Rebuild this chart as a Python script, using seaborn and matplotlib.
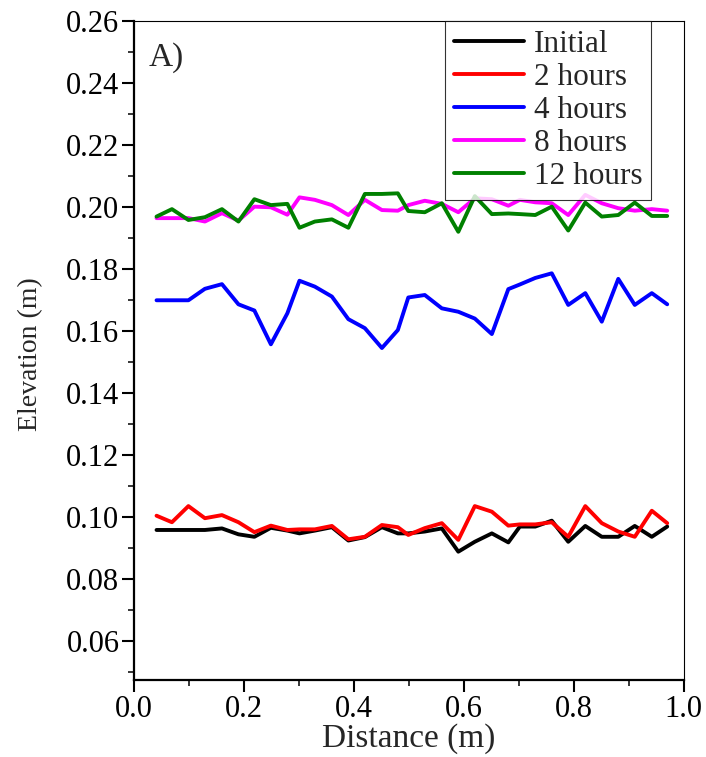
import numpy as np
import pandas as pd
import matplotlib
matplotlib.use("Agg")
import matplotlib.pyplot as plt
from matplotlib.ticker import MultipleLocator, FormatStrFormatter
import seaborn as sns

# Measurement positions along the flume (m)
distance = [0.041, 0.069, 0.099, 0.129, 0.160, 0.190, 0.219, 0.249, 0.279, 0.301,
            0.329, 0.360, 0.390, 0.420, 0.451, 0.480, 0.499, 0.529, 0.560, 0.590,
            0.620, 0.651, 0.681, 0.702, 0.730, 0.760, 0.790, 0.821, 0.851, 0.881,
            0.911, 0.942, 0.970]

# Bed elevation profiles (m)
initial = [0.0958, 0.0958, 0.0958, 0.0958, 0.0963, 0.0944, 0.0936, 0.0965, 0.0956, 0.0947,
           0.0956, 0.0967, 0.0924, 0.0935, 0.0967, 0.0947, 0.0947, 0.0953, 0.0963, 0.0888,
           0.0920, 0.0947, 0.0918, 0.0969, 0.0969, 0.0988, 0.0920, 0.0971, 0.0936, 0.0936,
           0.0971, 0.0936, 0.0969]
hours_2 = [0.1004, 0.0983, 0.1035, 0.0996, 0.1006, 0.0983, 0.0951, 0.0972, 0.0958, 0.0960,
           0.0960, 0.0971, 0.0928, 0.0936, 0.0974, 0.0967, 0.0942, 0.0964, 0.0980, 0.0926,
           0.1035, 0.1017, 0.0972, 0.0976, 0.0976, 0.0983, 0.0936, 0.1035, 0.0980, 0.0953,
           0.0936, 0.1020, 0.0980]
hours_4 = [0.1699, 0.1699, 0.1699, 0.1736, 0.1751, 0.1686, 0.1666, 0.1557, 0.1657, 0.1762,
           0.1743, 0.1711, 0.1638, 0.1609, 0.1545, 0.1603, 0.1708, 0.1716, 0.1673, 0.1662,
           0.1640, 0.1590, 0.1735, 0.1750, 0.1771, 0.1786, 0.1684, 0.1722, 0.1630, 0.1768,
           0.1684, 0.1722, 0.1686]
hours_8 = [0.1964, 0.1964, 0.1964, 0.1953, 0.1980, 0.1956, 0.2001, 0.1999, 0.1975, 0.2031,
           0.2023, 0.2006, 0.1974, 0.2023, 0.1990, 0.1988, 0.2006, 0.2020, 0.2010, 0.1983,
           0.2028, 0.2025, 0.2004, 0.2023, 0.2015, 0.2012, 0.1974, 0.2039, 0.2012, 0.1996,
           0.1988, 0.1993, 0.1988]
hours_12 = [0.1969, 0.1993, 0.1958, 0.1967, 0.1993, 0.1953, 0.2025, 0.2006, 0.2010, 0.1933,
            0.1953, 0.1960, 0.1933, 0.2042, 0.2042, 0.2044, 0.1987, 0.1983, 0.2012, 0.1920,
            0.2035, 0.1977, 0.1979, 0.1977, 0.1974, 0.2001, 0.1924, 0.2014, 0.1969, 0.1974,
            0.2014, 0.1971, 0.1971]

series_names = ["Initial", "2 hours", "4 hours", "8 hours", "12 hours"]
series_values = [initial, hours_2, hours_4, hours_8, hours_12]
series_colors = ["#000000", "#ff0000", "#0000ff", "#ff00ff", "#008000"]

frames = []
for name, vals in zip(series_names, series_values):
    frames.append(pd.DataFrame({"Distance": distance, "Elevation": vals, "Series": name}))
df = pd.concat(frames, ignore_index=True)

sns.set_style("ticks")
plt.rcParams["font.family"] = ["Liberation Serif", "DejaVu Serif"]
plt.rcParams["mathtext.fontset"] = "stix"

fig = plt.figure(figsize=(7.06, 7.57), dpi=100)
ax = fig.add_axes([0.1898, 0.1017, 0.7786, 0.8706])

sns.lineplot(data=df, x="Distance", y="Elevation", hue="Series",
             hue_order=series_names, palette=series_colors,
             sort=False, estimator=None, linewidth=2.8, ax=ax)

ax.set_xlim(0.0, 1.0)
ax.set_ylim(0.0474, 0.26)
ax.xaxis.set_major_locator(MultipleLocator(0.2))
ax.xaxis.set_minor_locator(MultipleLocator(0.1))
ax.yaxis.set_minor_locator(MultipleLocator(0.01))
ax.set_yticks(np.arange(0.06, 0.2601, 0.02))
ax.xaxis.set_major_formatter(FormatStrFormatter("%.1f"))
ax.yaxis.set_major_formatter(FormatStrFormatter("%.2f"))

for side in ["left", "bottom", "top", "right"]:
    ax.spines[side].set_visible(True)
    ax.spines[side].set_color("black")
ax.spines["left"].set_linewidth(1.6)
ax.spines["bottom"].set_linewidth(1.6)
ax.spines["top"].set_linewidth(0.8)
ax.spines["right"].set_linewidth(0.8)

ax.tick_params(axis="both", which="major", direction="out", length=8.5, width=1.5,
               labelsize=22, colors="black", top=False, right=False, pad=2)
ax.tick_params(axis="both", which="minor", direction="out", length=4.5, width=1.3,
               top=False, right=False)

ax.set_xlabel("Distance (m)", fontsize=24, labelpad=0)
ax.set_ylabel("Elevation (m)", fontsize=20)
ax.yaxis.set_label_coords(-0.166, 0.495)

ax.text(0.027, 0.944, "A)", transform=ax.transAxes, fontsize=24,
        ha="left", va="center")

leg = ax.legend(loc="upper right", bbox_to_anchor=(0.9405, 1.0), borderaxespad=0,
                fontsize=22.5, frameon=True, fancybox=False, handlelength=2.25,
                handletextpad=0.3, labelspacing=0.13, borderpad=0.28)
leg.get_frame().set_edgecolor("black")
leg.get_frame().set_linewidth(0.8)
for line in leg.get_lines():
    line.set_linewidth(2.8)

fig.savefig("out.png", dpi=100, facecolor="white")
